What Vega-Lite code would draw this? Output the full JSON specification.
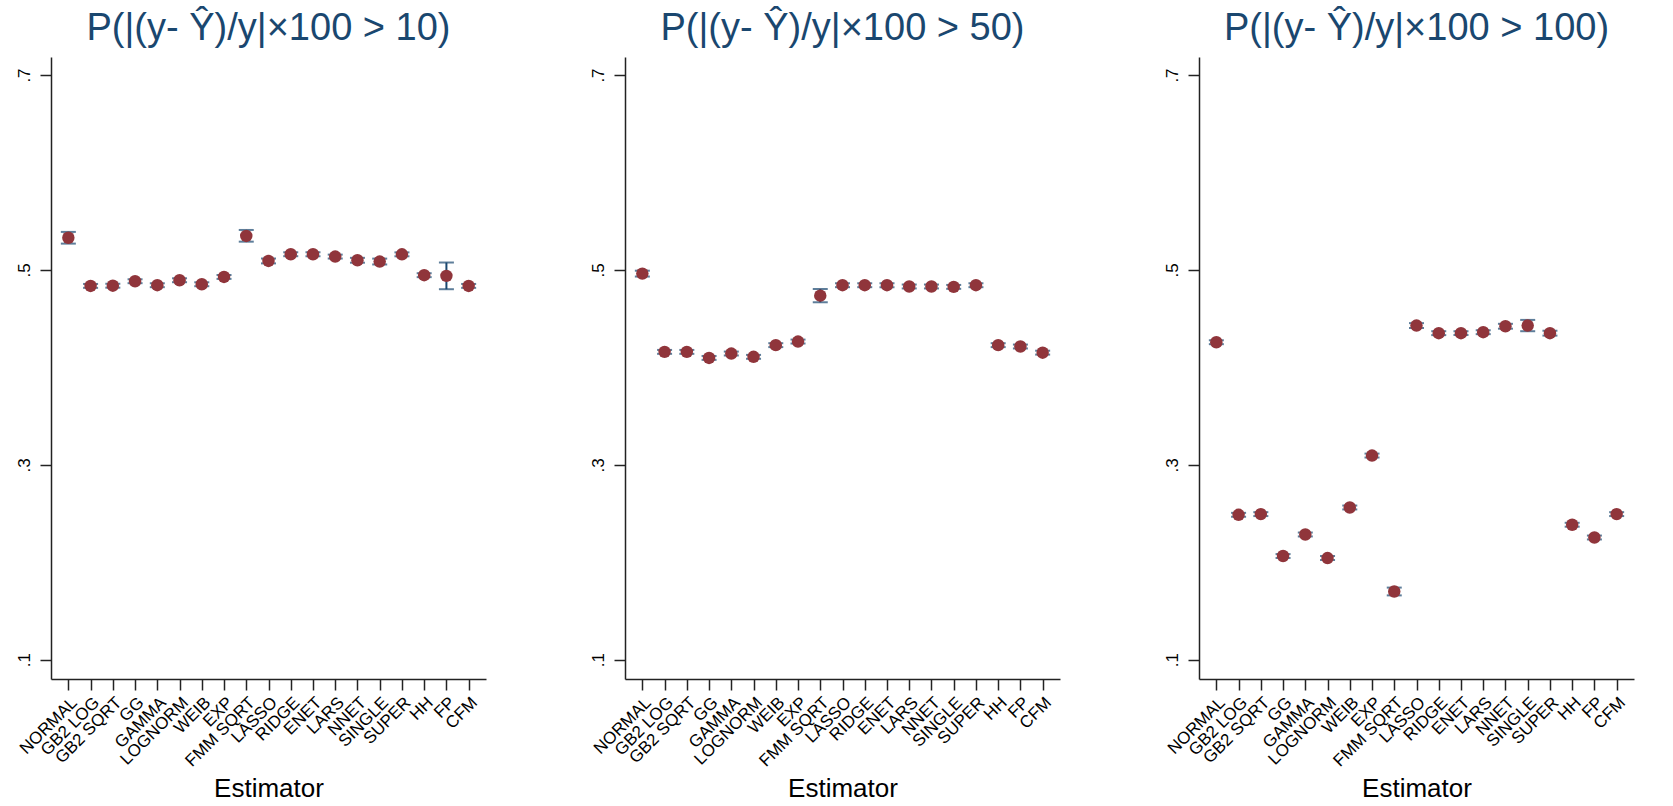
{
  "$schema": "https://vega.github.io/schema/vega-lite/v6.json",
  "background": "white",
  "padding": {"left": 15, "top": 10, "right": 5, "bottom": 0},
  "spacing": 139,
  "bounds": "flush",
  "config": {
    "view": {"stroke": null},
    "font": "Liberation Sans",
    "title": {"fontSize": 38, "fontWeight": "normal", "color": "#1a476f", "anchor": "middle", "baseline": "alphabetic", "offset": 9},
    "axis": {"grid": false, "domainColor": "#222", "domainWidth": 1.5, "tickColor": "#222", "tickWidth": 1.5, "tickSize": 11, "labelColor": "#000", "labelFontSize": 17, "titleColor": "#000", "titleFontWeight": "normal"},
    "axisX": {"labelAngle": -45, "labelAlign": "right", "labelBaseline": "top", "labelPadding": 4, "labelOverlap": false, "labelBound": false, "titleFontSize": 26, "titleY": 117, "titleBaseline": "alphabetic"},
    "axisY": {"labelAngle": -90, "labelAlign": "center", "labelBaseline": "alphabetic", "labelPadding": 11}
  },
  "datasets": {
    "d": [
      {"panel": "p10", "estimator": "NORMAL", "v": 0.533, "lo": 0.527, "hi": 0.539},
      {"panel": "p10", "estimator": "GB2 LOG", "v": 0.4836, "lo": 0.4816, "hi": 0.4856},
      {"panel": "p10", "estimator": "GB2 SQRT", "v": 0.4838, "lo": 0.4818, "hi": 0.4858},
      {"panel": "p10", "estimator": "GG", "v": 0.4884, "lo": 0.4864, "hi": 0.4904},
      {"panel": "p10", "estimator": "GAMMA", "v": 0.4843, "lo": 0.4823, "hi": 0.4863},
      {"panel": "p10", "estimator": "LOGNORM", "v": 0.4894, "lo": 0.4874, "hi": 0.4914},
      {"panel": "p10", "estimator": "WEIB", "v": 0.4853, "lo": 0.4833, "hi": 0.4873},
      {"panel": "p10", "estimator": "EXP", "v": 0.4928, "lo": 0.4908, "hi": 0.4948},
      {"panel": "p10", "estimator": "FMM SQRT", "v": 0.5349, "lo": 0.529, "hi": 0.541},
      {"panel": "p10", "estimator": "LASSO", "v": 0.5092, "lo": 0.5067, "hi": 0.5117},
      {"panel": "p10", "estimator": "RIDGE", "v": 0.5161, "lo": 0.5141, "hi": 0.5181},
      {"panel": "p10", "estimator": "ENET", "v": 0.5161, "lo": 0.5141, "hi": 0.5181},
      {"panel": "p10", "estimator": "LARS", "v": 0.5137, "lo": 0.5117, "hi": 0.5157},
      {"panel": "p10", "estimator": "NNET", "v": 0.5099, "lo": 0.5074, "hi": 0.5124},
      {"panel": "p10", "estimator": "SINGLE", "v": 0.5086, "lo": 0.5056, "hi": 0.5116},
      {"panel": "p10", "estimator": "SUPER", "v": 0.516, "lo": 0.514, "hi": 0.518},
      {"panel": "p10", "estimator": "HH", "v": 0.4946, "lo": 0.4926, "hi": 0.4966},
      {"panel": "p10", "estimator": "FP", "v": 0.4939, "lo": 0.4802, "hi": 0.5076},
      {"panel": "p10", "estimator": "CFM", "v": 0.4836, "lo": 0.4816, "hi": 0.4856},

      {"panel": "p50", "estimator": "NORMAL", "v": 0.4962, "lo": 0.4932, "hi": 0.4992},
      {"panel": "p50", "estimator": "GB2 LOG", "v": 0.4159, "lo": 0.4139, "hi": 0.4179},
      {"panel": "p50", "estimator": "GB2 SQRT", "v": 0.4159, "lo": 0.4139, "hi": 0.4179},
      {"panel": "p50", "estimator": "GG", "v": 0.4097, "lo": 0.4077, "hi": 0.4117},
      {"panel": "p50", "estimator": "GAMMA", "v": 0.4142, "lo": 0.4122, "hi": 0.4162},
      {"panel": "p50", "estimator": "LOGNORM", "v": 0.4108, "lo": 0.4088, "hi": 0.4128},
      {"panel": "p50", "estimator": "WEIB", "v": 0.4228, "lo": 0.4208, "hi": 0.4248},
      {"panel": "p50", "estimator": "EXP", "v": 0.4265, "lo": 0.4245, "hi": 0.4285},
      {"panel": "p50", "estimator": "FMM SQRT", "v": 0.4736, "lo": 0.4668, "hi": 0.4804},
      {"panel": "p50", "estimator": "LASSO", "v": 0.4843, "lo": 0.4823, "hi": 0.4863},
      {"panel": "p50", "estimator": "RIDGE", "v": 0.4843, "lo": 0.4823, "hi": 0.4863},
      {"panel": "p50", "estimator": "ENET", "v": 0.4843, "lo": 0.4823, "hi": 0.4863},
      {"panel": "p50", "estimator": "LARS", "v": 0.483, "lo": 0.481, "hi": 0.485},
      {"panel": "p50", "estimator": "NNET", "v": 0.483, "lo": 0.481, "hi": 0.485},
      {"panel": "p50", "estimator": "SINGLE", "v": 0.4826, "lo": 0.4806, "hi": 0.4846},
      {"panel": "p50", "estimator": "SUPER", "v": 0.4843, "lo": 0.4823, "hi": 0.4863},
      {"panel": "p50", "estimator": "HH", "v": 0.4228, "lo": 0.4208, "hi": 0.4248},
      {"panel": "p50", "estimator": "FP", "v": 0.4214, "lo": 0.4194, "hi": 0.4234},
      {"panel": "p50", "estimator": "CFM", "v": 0.4151, "lo": 0.4131, "hi": 0.4171},

      {"panel": "p100", "estimator": "NORMAL", "v": 0.4258, "lo": 0.4238, "hi": 0.4278},
      {"panel": "p100", "estimator": "GB2 LOG", "v": 0.2487, "lo": 0.2467, "hi": 0.2507},
      {"panel": "p100", "estimator": "GB2 SQRT", "v": 0.2494, "lo": 0.2474, "hi": 0.2514},
      {"panel": "p100", "estimator": "GG", "v": 0.2064, "lo": 0.2044, "hi": 0.2084},
      {"panel": "p100", "estimator": "GAMMA", "v": 0.2285, "lo": 0.2265, "hi": 0.2305},
      {"panel": "p100", "estimator": "LOGNORM", "v": 0.2043, "lo": 0.2023, "hi": 0.2063},
      {"panel": "p100", "estimator": "WEIB", "v": 0.2562, "lo": 0.2542, "hi": 0.2582},
      {"panel": "p100", "estimator": "EXP", "v": 0.3095, "lo": 0.3075, "hi": 0.3115},
      {"panel": "p100", "estimator": "FMM SQRT", "v": 0.170, "lo": 0.166, "hi": 0.174},
      {"panel": "p100", "estimator": "LASSO", "v": 0.4429, "lo": 0.4404, "hi": 0.4454},
      {"panel": "p100", "estimator": "RIDGE", "v": 0.4351, "lo": 0.4331, "hi": 0.4371},
      {"panel": "p100", "estimator": "ENET", "v": 0.4351, "lo": 0.4331, "hi": 0.4371},
      {"panel": "p100", "estimator": "LARS", "v": 0.4361, "lo": 0.4341, "hi": 0.4381},
      {"panel": "p100", "estimator": "NNET", "v": 0.4422, "lo": 0.4397, "hi": 0.4447},
      {"panel": "p100", "estimator": "SINGLE", "v": 0.4429, "lo": 0.4371, "hi": 0.4487},
      {"panel": "p100", "estimator": "SUPER", "v": 0.4351, "lo": 0.4326, "hi": 0.4376},
      {"panel": "p100", "estimator": "HH", "v": 0.2385, "lo": 0.2365, "hi": 0.2405},
      {"panel": "p100", "estimator": "FP", "v": 0.2254, "lo": 0.2234, "hi": 0.2274},
      {"panel": "p100", "estimator": "CFM", "v": 0.2494, "lo": 0.2474, "hi": 0.2514}
    ]
  },
  "hconcat": [
    {
      "width": 435, "height": 622,
      "title": "P(|(y- Ŷ)/y|×100 > 10)",
      "data": {"name": "d"},
      "transform": [{"filter": "datum.panel == 'p10'"}],
      "encoding": {"x": {"field": "estimator", "type": "nominal", "title": "Estimator", "sort": ["NORMAL", "GB2 LOG", "GB2 SQRT", "GG", "GAMMA", "LOGNORM", "WEIB", "EXP", "FMM SQRT", "LASSO", "RIDGE", "ENET", "LARS", "NNET", "SINGLE", "SUPER", "HH", "FP", "CFM"], "scale": {"type": "point", "padding": 0.78}}},
      "layer": [
        {"mark": {"type": "rule", "color": "#1a476f", "strokeWidth": 2}, "encoding": {"y": {"field": "lo", "type": "quantitative", "title": null, "scale": {"domain": [0.0802, 0.7185], "zero": false, "nice": false}, "axis": {"values": [0.1, 0.3, 0.5, 0.7], "labelExpr": "replace(format(datum.value, '.1f'), '0.', '.')"}}, "y2": {"field": "hi"}}},
        {"mark": {"type": "tick", "color": "#1a476f", "thickness": 2, "size": 15, "orient": "horizontal"}, "encoding": {"y": {"field": "lo", "type": "quantitative", "title": null, "axis": {"values": [0.1, 0.3, 0.5, 0.7], "labelExpr": "replace(format(datum.value, '.1f'), '0.', '.')"}}}},
        {"mark": {"type": "tick", "color": "#1a476f", "thickness": 2, "size": 15, "orient": "horizontal"}, "encoding": {"y": {"field": "hi", "type": "quantitative", "title": null, "axis": {"values": [0.1, 0.3, 0.5, 0.7], "labelExpr": "replace(format(datum.value, '.1f'), '0.', '.')"}}}},
        {"mark": {"type": "circle", "color": "#90353b", "opacity": 1, "size": 155}, "encoding": {"y": {"field": "v", "type": "quantitative", "title": null, "axis": {"values": [0.1, 0.3, 0.5, 0.7], "labelExpr": "replace(format(datum.value, '.1f'), '0.', '.')"}}}}
      ]
    },
    {
      "width": 435, "height": 622,
      "title": "P(|(y- Ŷ)/y|×100 > 50)",
      "data": {"name": "d"},
      "transform": [{"filter": "datum.panel == 'p50'"}],
      "encoding": {"x": {"field": "estimator", "type": "nominal", "title": "Estimator", "sort": ["NORMAL", "GB2 LOG", "GB2 SQRT", "GG", "GAMMA", "LOGNORM", "WEIB", "EXP", "FMM SQRT", "LASSO", "RIDGE", "ENET", "LARS", "NNET", "SINGLE", "SUPER", "HH", "FP", "CFM"], "scale": {"type": "point", "padding": 0.78}}},
      "layer": [
        {"mark": {"type": "rule", "color": "#1a476f", "strokeWidth": 2}, "encoding": {"y": {"field": "lo", "type": "quantitative", "title": null, "scale": {"domain": [0.0802, 0.7185], "zero": false, "nice": false}, "axis": {"values": [0.1, 0.3, 0.5, 0.7], "labelExpr": "replace(format(datum.value, '.1f'), '0.', '.')"}}, "y2": {"field": "hi"}}},
        {"mark": {"type": "tick", "color": "#1a476f", "thickness": 2, "size": 15, "orient": "horizontal"}, "encoding": {"y": {"field": "lo", "type": "quantitative", "title": null, "axis": {"values": [0.1, 0.3, 0.5, 0.7], "labelExpr": "replace(format(datum.value, '.1f'), '0.', '.')"}}}},
        {"mark": {"type": "tick", "color": "#1a476f", "thickness": 2, "size": 15, "orient": "horizontal"}, "encoding": {"y": {"field": "hi", "type": "quantitative", "title": null, "axis": {"values": [0.1, 0.3, 0.5, 0.7], "labelExpr": "replace(format(datum.value, '.1f'), '0.', '.')"}}}},
        {"mark": {"type": "circle", "color": "#90353b", "opacity": 1, "size": 155}, "encoding": {"y": {"field": "v", "type": "quantitative", "title": null, "axis": {"values": [0.1, 0.3, 0.5, 0.7], "labelExpr": "replace(format(datum.value, '.1f'), '0.', '.')"}}}}
      ]
    },
    {
      "width": 435, "height": 622,
      "title": "P(|(y- Ŷ)/y|×100 > 100)",
      "data": {"name": "d"},
      "transform": [{"filter": "datum.panel == 'p100'"}],
      "encoding": {"x": {"field": "estimator", "type": "nominal", "title": "Estimator", "sort": ["NORMAL", "GB2 LOG", "GB2 SQRT", "GG", "GAMMA", "LOGNORM", "WEIB", "EXP", "FMM SQRT", "LASSO", "RIDGE", "ENET", "LARS", "NNET", "SINGLE", "SUPER", "HH", "FP", "CFM"], "scale": {"type": "point", "padding": 0.78}}},
      "layer": [
        {"mark": {"type": "rule", "color": "#1a476f", "strokeWidth": 2}, "encoding": {"y": {"field": "lo", "type": "quantitative", "title": null, "scale": {"domain": [0.0802, 0.7185], "zero": false, "nice": false}, "axis": {"values": [0.1, 0.3, 0.5, 0.7], "labelExpr": "replace(format(datum.value, '.1f'), '0.', '.')"}}, "y2": {"field": "hi"}}},
        {"mark": {"type": "tick", "color": "#1a476f", "thickness": 2, "size": 15, "orient": "horizontal"}, "encoding": {"y": {"field": "lo", "type": "quantitative", "title": null, "axis": {"values": [0.1, 0.3, 0.5, 0.7], "labelExpr": "replace(format(datum.value, '.1f'), '0.', '.')"}}}},
        {"mark": {"type": "tick", "color": "#1a476f", "thickness": 2, "size": 15, "orient": "horizontal"}, "encoding": {"y": {"field": "hi", "type": "quantitative", "title": null, "axis": {"values": [0.1, 0.3, 0.5, 0.7], "labelExpr": "replace(format(datum.value, '.1f'), '0.', '.')"}}}},
        {"mark": {"type": "circle", "color": "#90353b", "opacity": 1, "size": 155}, "encoding": {"y": {"field": "v", "type": "quantitative", "title": null, "axis": {"values": [0.1, 0.3, 0.5, 0.7], "labelExpr": "replace(format(datum.value, '.1f'), '0.', '.')"}}}}
      ]
    }
  ]
}
